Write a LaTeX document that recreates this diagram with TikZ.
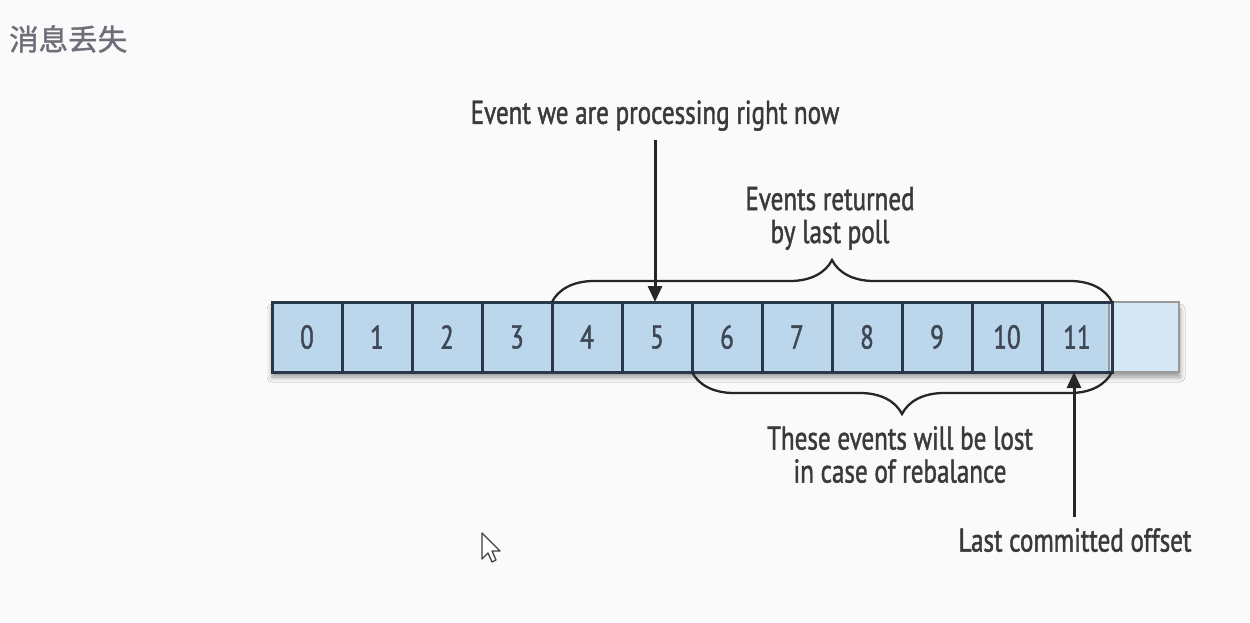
\documentclass[tikz,border=0pt]{standalone}
\usepackage{fontspec}
\usetikzlibrary{decorations.pathreplacing,arrows.meta,shadows.blur}
\newfontfamily\cjk[FakeBold=1.2]{Noto Sans CJK SC}
\newfontfamily\lblfont[FakeStretch=0.76,FakeBold=1.3]{PT Sans}
\definecolor{cellfill}{HTML}{BCD6EC}
\definecolor{ghostfill}{HTML}{D6E6F3}
\definecolor{cellline}{HTML}{28384A}
\definecolor{ink}{HTML}{3A3A3A}
\definecolor{digit}{HTML}{3E4854}
\definecolor{titlegray}{HTML}{6E6E78}
\tikzset{
  cell/.style={draw=cellline, line width=3pt, fill=cellfill, minimum width=70pt,
    minimum height=70pt, inner sep=0pt, outer sep=0pt, text=digit,
    font=\lblfont\fontsize{33}{35}\selectfont},
  ghost/.style={draw=black!40, line width=2.5pt, fill=ghostfill, minimum width=70pt,
    minimum height=70pt, inner sep=0pt, outer sep=0pt},
  label/.style={text=ink, font=\lblfont\fontsize{33}{37}\selectfont, align=center, inner sep=2pt},
  bracket/.style={decorate, decoration={brace, amplitude=42pt}, line width=2.3pt, draw=black!85},
  pointer/.style={line width=3pt, draw=black!85, -{Triangle[length=16pt, width=14pt]}}
}
\begin{document}
\begin{tikzpicture}[x=1pt, y=-1pt]
  \useasboundingbox (0,0) rectangle (1250,622);
  \fill[white!98!black] (0,0) rectangle (1250,622);

  % title
  \node[anchor=west, text=titlegray, font=\cjk\fontsize{29.5}{32}\selectfont, inner sep=0pt]
    (title) at (9,39) {消息丢失};

  % soft shadow beneath the strip of offsets
  \fill[black, opacity=0.18, blur shadow={shadow xshift=0pt, shadow yshift=-5pt, shadow blur radius=5pt, shadow opacity=40}]
    (272,304) rectangle (1180,372);

  % offsets 0..11 and the next free slot
  \foreach \i in {0,...,11} {
    \node[cell] (c\i) at ({307+70*\i},337) {\i};
  }
  \node[ghost] (c12) at (1144,337) {};
  \foreach \i in {0,...,11} {
    \draw[cellline, line width=3pt] (c\i.north west) rectangle (c\i.south east);
  }

  % braces
  \draw[bracket] (c4.north west) -- (c11.north east);
  \draw[bracket] (c11.south east) -- (c6.south west);

  % labels
  \node[label, anchor=south] (now) at (655,133) {Event we are processing right now};
  \node[label, anchor=south] (polled) at (830,252) {Events returned\\[-4pt]by last poll};
  \node[label, anchor=north] (lost) at (900,424) {These events will be lost\\[-4pt]in case of rebalance};
  \node[label, anchor=north] (committed) at (1075,526) {Last committed offset};

  % arrows
  \coordinate (nowtail) at (655,140);
  \coordinate (offtail) at (1074,517);
  \draw[pointer] (nowtail) -- (nowtail |- c5.north);
  \draw[pointer] (offtail) -- (offtail |- c11.south);

  % mouse pointer
  \draw[black!75, fill=white, line width=1.3pt, line join=round]
    (482,533) -- ++(0,26) -- ++(6,-6) -- ++(4,9) -- ++(4,-2) -- ++(-4,-9) -- ++(8,0) -- cycle;
\end{tikzpicture}
\end{document}
